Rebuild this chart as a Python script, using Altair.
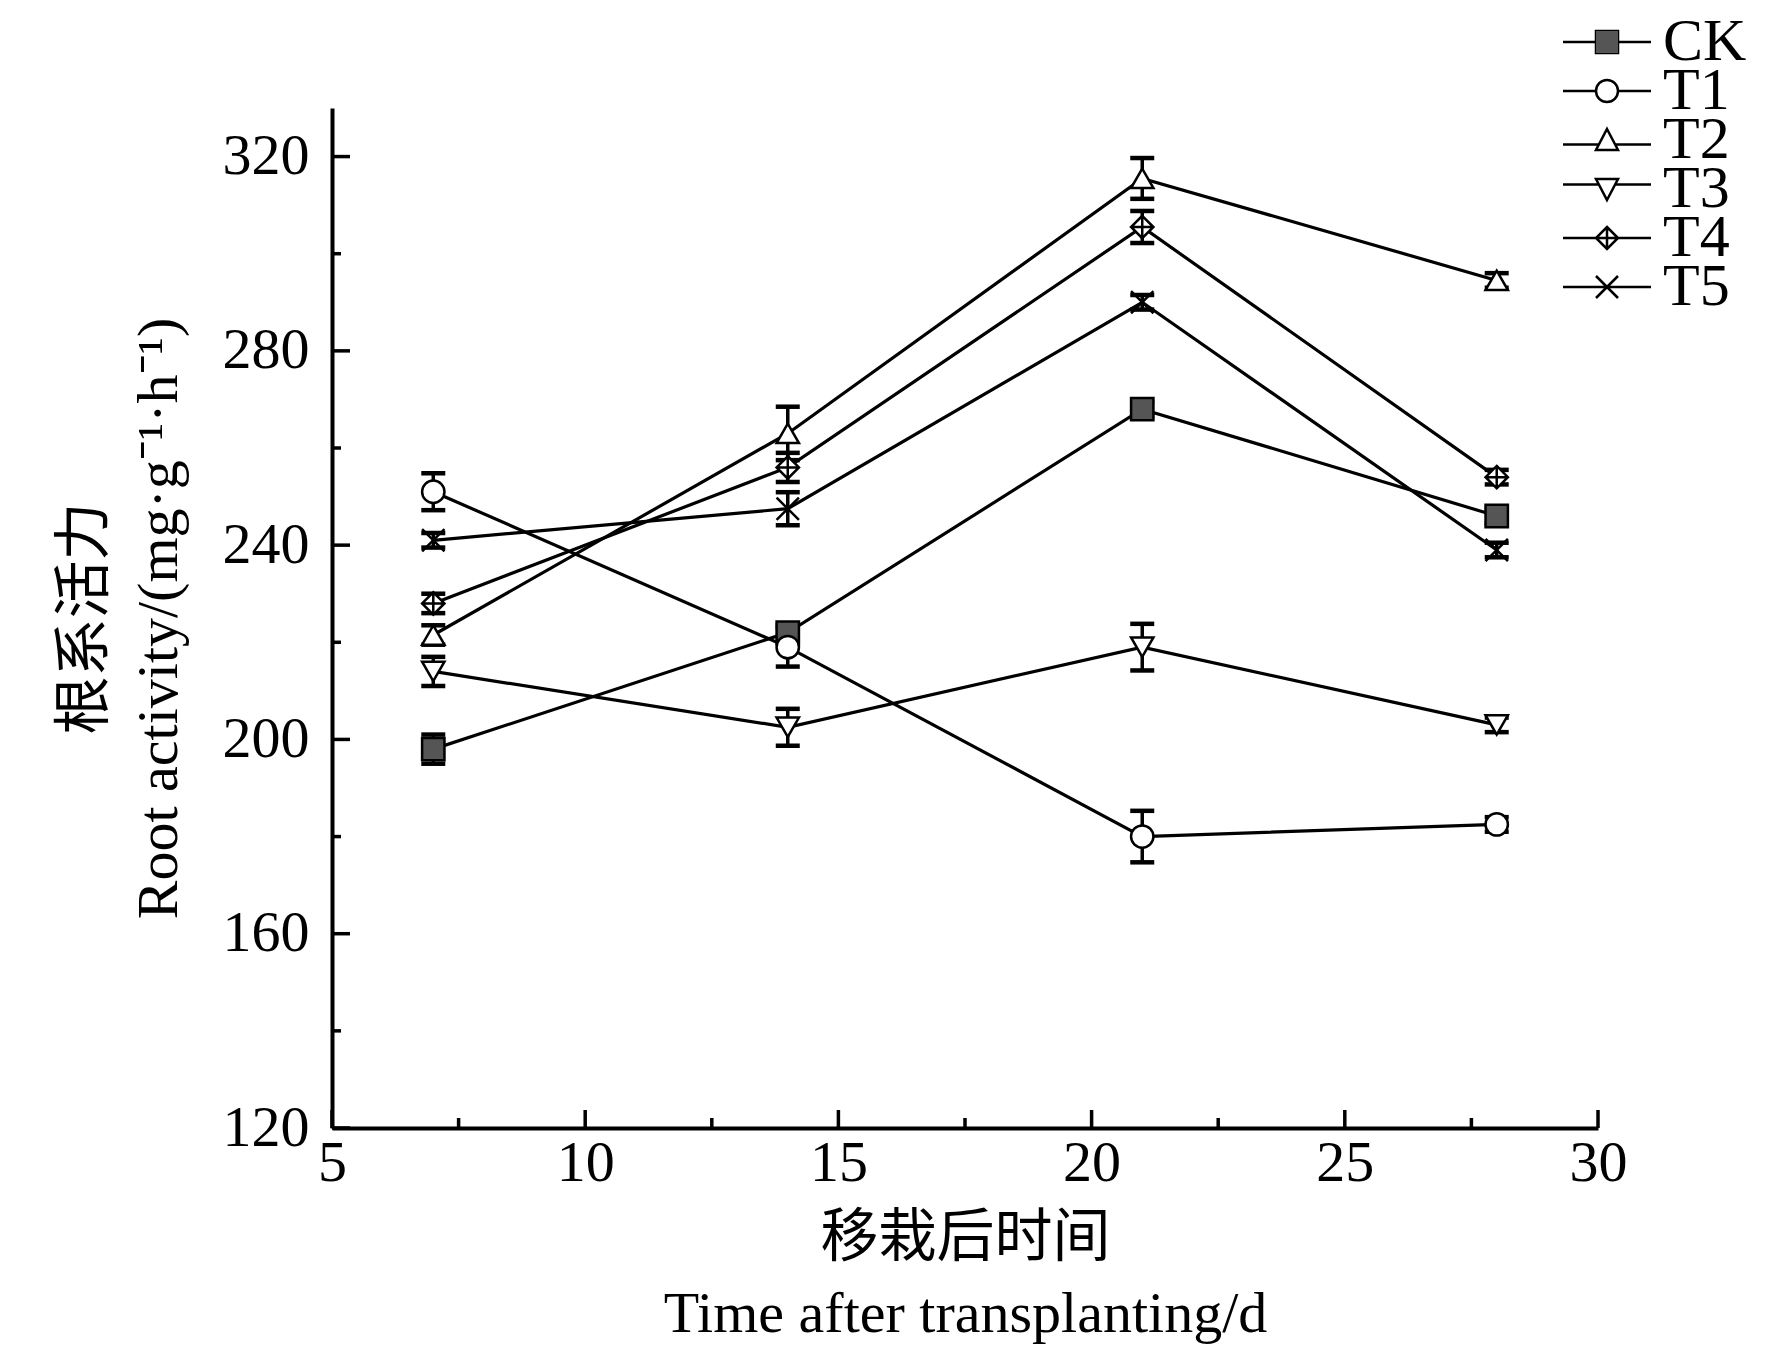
import altair as alt
import pandas as pd

days = [7, 14, 21, 28]
series = ["CK", "T1", "T2", "T3", "T4", "T5"]
ck = [198, 222, 268, 246]
t1 = [251, 219, 180, 182.5]
t2 = [221.5, 263, 315.5, 294.5]
t3 = [214, 202.5, 219, 203]
t4 = [228, 256, 305.5, 254]
t5 = [241, 247.5, 290, 239]
ck_err = [3, 1.5, 1.5, 1.5]
t1_err = [3.8, 4, 5.3, 1.5]
t2_err = [2, 5.5, 4.2, 1.5]
t3_err = [3, 3.8, 4.8, 1.5]
t4_err = [2, 3, 3.3, 1.5]
t5_err = [1.5, 3.4, 1.5, 1.5]

x_major = [5, 10, 15, 20, 25, 30]
x_minor = [7.5, 12.5, 17.5, 22.5, 27.5]
y_major = [120, 160, 200, 240, 280, 320]
y_minor = [140, 180, 220, 260, 300]

vals = [ck, t1, t2, t3, t4, t5]
errs = [ck_err, t1_err, t2_err, t3_err, t4_err, t5_err]
rows = []
for s, v, e in zip(series, vals, errs):
    for d, vv, ee in zip(days, v, e):
        rows.append({"day": d, "series": s, "value": vv, "lo": vv - ee, "hi": vv + ee})
df = pd.DataFrame(rows)

W, H = 1266, 1020
FONT = "Liberation Serif, Times New Roman, Noto Sans CJK SC"

xs = alt.Scale(domain=[5, 30], nice=False, zero=False)
ys = alt.Scale(domain=[120, 330], nice=False, zero=False)

fills = ["#555555", "white", "white", "white", "white", "white"]
legend_fills = ["#555555", "rgba(0,0,0,0)", "rgba(0,0,0,0)", "rgba(0,0,0,0)", "rgba(0,0,0,0)", "rgba(0,0,0,0)"]
plot_shapes = [
    "square",
    "circle",
    "triangle-up",
    "triangle-down",
    "M0,-1L1,0L0,1L-1,0Z M0,-1V1 M-1,0H1",
    "M-1,-1L1,1 M-1,1L1,-1",
]
legend_shapes = [
    "M-4,0H-1 M1,0H4 M-1,-1H1V1H-1Z",
    "M-4,0H-1 M1,0H4 M1,0A1,1,0,1,1,-1,0A1,1,0,1,1,1,0Z",
    "M-4,0.4H-0.75 M0.75,0.4H4 M0,-1L1,0.9L-1,0.9Z",
    "M-4,-0.4H-0.75 M0.75,-0.4H4 M0,1L1,-0.9L-1,-0.9Z",
    "M-4,0H-1 M1,0H4 M0,-1L1,0L0,1L-1,0Z M0,-1V1 M-1,0H1",
    "M-4,0H4 M-1,-1L1,1 M-1,1L1,-1",
]


def x_axis():
    return alt.Axis(
        values=x_major, format="d", ticks=False, grid=False, domainWidth=4, domainColor="black",
        labelFontSize=58, labelPadding=6, labelColor="black", labelFlush=False,
        title=["移栽后时间", "Time after transplanting/d"], titleFontSize=58, titleFontWeight="normal",
        titleLineHeight=76, titleX=W / 2, titleY=110, titleBaseline="middle", titleColor="black",
    )


def y_axis():
    return alt.Axis(
        values=y_major, format="d", ticks=False, grid=False, domainWidth=4, domainColor="black",
        labelFontSize=58, labelPadding=23, labelColor="black", labelFlush=False,
        title=["根系活力", "Root activity/(mg·g⁻¹·h⁻¹)"], titleFontSize=58, titleFontWeight="normal",
        titleLineHeight=74, titleX=-247, titleY=H / 2, titleAngle=-90, titleBaseline="middle",
        titleColor="black",
    )


base = alt.Chart(df)

lines = base.mark_line(color="black", strokeWidth=3.2, opacity=1).encode(
    x=alt.X("day:Q", scale=xs, axis=x_axis()),
    y=alt.Y("value:Q", scale=ys, axis=y_axis()),
    detail="series:N",
)
bars = base.mark_rule(color="black", strokeWidth=3.5, opacity=1).encode(
    x=alt.X("day:Q", scale=xs, axis=x_axis()), y=alt.Y("lo:Q", scale=ys, axis=y_axis()), y2="hi:Q"
)
cap_lo = base.mark_tick(orient="horizontal", size=24, thickness=4.5, color="black", opacity=1).encode(
    x=alt.X("day:Q", scale=xs, axis=x_axis()), y=alt.Y("lo:Q", scale=ys, axis=y_axis())
)
cap_hi = base.mark_tick(orient="horizontal", size=24, thickness=4.5, color="black", opacity=1).encode(
    x=alt.X("day:Q", scale=xs, axis=x_axis()), y=alt.Y("hi:Q", scale=ys, axis=y_axis())
)
points = base.mark_point(size=500, strokeWidth=2.5, stroke="black", opacity=1, filled=True).encode(
    x=alt.X("day:Q", scale=xs, axis=x_axis()),
    y=alt.Y("value:Q", scale=ys, axis=y_axis()),
    shape=alt.Shape("series:N", scale=alt.Scale(domain=series, range=plot_shapes), legend=None),
    fill=alt.Fill("series:N", scale=alt.Scale(domain=series, range=fills), legend=None),
)

LX, LY, LOFF, ROW = 1245, -96, 26, 49

legend_layers = []
for i, s in enumerate(series):
    leg = alt.Legend(
        title=None, orient="none", legendX=LX, legendY=LY + i * ROW, padding=0, values=[s],
        labelFont=FONT, labelFontSize=60, labelColor="black", labelOffset=LOFF,
        symbolSize=484, symbolStrokeWidth=2.5, symbolStrokeColor="black", symbolFillColor="white",
    )
    legend_layers.append(
        base.mark_point(size=484, strokeWidth=2.5, stroke="black", opacity=1).encode(
            x=alt.X("day:Q", scale=xs, axis=x_axis()),
            y=alt.Y("value:Q", scale=ys, axis=y_axis()),
            shape=alt.Shape("series:N", scale=alt.Scale(domain=series, range=legend_shapes), legend=leg),
        ).transform_filter("datum.value < 0")
    )

leg_fill = alt.Legend(
    title=None, orient="none", legendX=LX, legendY=LY, padding=0, values=[series[0]],
    labelFont=FONT, labelFontSize=60, labelColor="rgba(0,0,0,0)", labelOffset=LOFF,
    symbolSize=484, symbolStrokeWidth=0, symbolType="square",
)
legend_fill_layer = base.mark_square(size=484, strokeWidth=0, opacity=1).encode(
    x=alt.X("day:Q", scale=xs, axis=x_axis()),
    y=alt.Y("value:Q", scale=ys, axis=y_axis()),
    fill=alt.Fill("series:N", scale=alt.Scale(domain=series, range=legend_fills), legend=leg_fill),
).transform_filter("datum.value < 0")

ytick_major = alt.Chart(pd.DataFrame({"v": y_major})).mark_rule(color="black", strokeWidth=3.5).encode(
    y=alt.Y("v:Q", scale=ys, axis=y_axis()), x=alt.value(0), x2=alt.value(18)
)
ytick_minor = alt.Chart(pd.DataFrame({"v": y_minor})).mark_rule(color="black", strokeWidth=3.5).encode(
    y=alt.Y("v:Q", scale=ys, axis=y_axis()), x=alt.value(0), x2=alt.value(9)
)
xtick_major = alt.Chart(pd.DataFrame({"v": x_major})).mark_rule(color="black", strokeWidth=3.5).encode(
    x=alt.X("v:Q", scale=xs, axis=x_axis()), y=alt.value(H), y2=alt.value(H - 18)
)
xtick_minor = alt.Chart(pd.DataFrame({"v": x_minor})).mark_rule(color="black", strokeWidth=3.5).encode(
    x=alt.X("v:Q", scale=xs, axis=x_axis()), y=alt.value(H), y2=alt.value(H - 10)
)

chart = alt.layer(
    ytick_major, ytick_minor, xtick_major, xtick_minor,
    lines, bars, cap_lo, cap_hi, points, *legend_layers, legend_fill_layer,
).resolve_scale(shape="independent", fill="independent").properties(
    width=W, height=H,
    autosize=alt.AutoSizeParams(type="none"),
    padding={"left": 324, "top": 100, "right": 166, "bottom": 221},
    background="white",
).configure_view(stroke=None).configure_axis(
    labelFont=FONT, titleFont=FONT
)

chart.save("out.html", embed_options={"renderer": "svg", "actions": False})
